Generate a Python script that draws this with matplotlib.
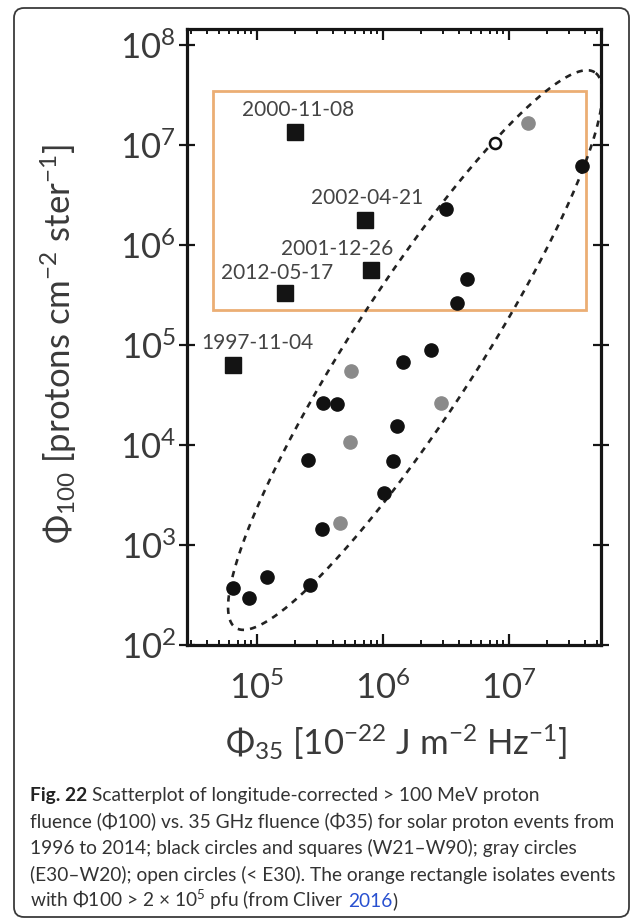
import numpy as np
import matplotlib
matplotlib.use('Agg')
import matplotlib.pyplot as plt
from matplotlib.patches import Rectangle, FancyBboxPatch
from matplotlib.transforms import IdentityTransform
from matplotlib.ticker import LogLocator, NullLocator

plt.rcParams['font.family'] = ['Lato', 'DejaVu Sans']
plt.rcParams['mathtext.fontset'] = 'custom'
plt.rcParams['mathtext.rm'] = 'Lato'
plt.rcParams['mathtext.it'] = 'Lato:italic'
plt.rcParams['mathtext.bf'] = 'Lato:bold'
plt.rcParams['mathtext.fallback'] = 'stixsans'

# ---------------- data ----------------
black_phi35 = [6.45e4, 8.6e4, 1.2e5, 2.63e5, 3.28e5, 2.54e5, 3.34e5, 4.3e5,
               1.02e6, 1.21e6, 1.28e6, 1.44e6, 2.4e6, 3.85e6, 4.6e6, 3.16e6, 3.78e7]
black_phi100 = [372, 295, 479, 398, 1.45e3, 7.1e3, 2.63e4, 2.57e4,
                3.3e3, 6.9e3, 1.55e4, 6.8e4, 8.9e4, 2.6e5, 4.6e5, 2.3e6, 6.2e6]

gray_phi35 = [4.56e5, 5.5e5, 5.6e5, 2.88e6, 1.42e7]
gray_phi100 = [1.66e3, 1.07e4, 5.5e4, 2.65e4, 1.65e7]

open_phi35 = [7.7e6]
open_phi100 = [1.04e7]

square_labels = ['1997-11-04', '2000-11-08', '2001-12-26', '2002-04-21', '2012-05-17']
square_phi35 = [6.45e4, 2.0e5, 8.0e5, 7.2e5, 1.67e5]
square_phi100 = [6.3e4, 1.35e7, 5.6e5, 1.78e6, 3.3e5]

# orange selection box (Phi35 range, Phi100 range)
box_phi35 = [4.45e4, 4.08e7]
box_phi100 = [2.25e5, 3.47e7]

# dashed ellipse (drawn as ellipse in log-log display space)
ell_center = (1.8e6, 8.9e4)
ell_tip = (4.79e7, 5.33e7)
ell_axis_ratio = 0.19

xlim = (2.78e4, 5.37e7)
ylim = (1e2, 1.445e8)

caption_lines = [
    "Scatterplot of longitude-corrected > 100 MeV proton",
    "fluence (\u03a6100) vs. 35 GHz fluence (\u03a635) for solar proton events from",
    "1996 to 2014; black circles and squares (W21\u2013W90); gray circles",
    "(E30\u2013W20); open circles (< E30). The orange rectangle isolates events",
    "with \u03a6100 > 2 \u00d7 10$^{5}$ pfu (from Cliver",
]

# ---------------- figure ----------------
W, H = 633, 919
fig = plt.figure(figsize=(W / 100, H / 100), dpi=100)
fig.patch.set_facecolor('white')

L, R, T, B = 187, 601, 29, 645
ax = fig.add_axes([L / W, 1 - B / H, (R - L) / W, (B - T) / H])
ax.set_xscale('log')
ax.set_yscale('log')
ax.set_xlim(*xlim)
ax.set_ylim(*ylim)

ax.xaxis.set_major_locator(LogLocator(base=10, numticks=20))
ax.xaxis.set_minor_locator(LogLocator(base=10, subs=np.arange(2, 10), numticks=20))
ax.yaxis.set_major_locator(LogLocator(base=10, numticks=20))
ax.yaxis.set_minor_locator(NullLocator())

tick_col = '#151515'
lab_col = '#3a3a3a'
ax.tick_params(axis='x', which='major', direction='in', top=True, bottom=True,
               length=8, width=1.6, color=tick_col, labelsize=25, pad=19,
               labelcolor=lab_col)
ax.tick_params(axis='x', which='minor', direction='in', top=True, bottom=True,
               length=3.5, width=1.4, color=tick_col)
ax.tick_params(axis='y', which='major', direction='inout', left=True, right=True,
               length=12, width=1.6, color=tick_col, labelsize=25, pad=2,
               labelcolor=lab_col)
for s in ax.spines.values():
    s.set_linewidth(2.3)
    s.set_color(tick_col)

# orange rectangle
ax.add_patch(Rectangle((box_phi35[0], box_phi100[0]),
                       box_phi35[1] - box_phi35[0], box_phi100[1] - box_phi100[0],
                       fill=False, edgecolor='#EBAE74', linewidth=2.0, zorder=2))

# dashed ellipse
c = ax.transData.transform(ell_center)
t = ax.transData.transform(ell_tip)
u = t - c
v = np.array([-u[1], u[0]]) * ell_axis_ratio
th = np.linspace(0, 2 * np.pi, 600)
pts = c + np.outer(np.cos(th), u) + np.outer(np.sin(th), v)
dpts = ax.transData.inverted().transform(pts)
ax.plot(dpts[:, 0], dpts[:, 1], linestyle=(0, (2.4, 2.3)), linewidth=1.9,
        color='#222222', zorder=3)

# points
ax.plot(black_phi35, black_phi100, 'o', ms=9.5, color='#111111', mec='#111111', zorder=4)
ax.plot(gray_phi35, gray_phi100, 'o', ms=9.5, color='#8a8a8a', mec='#8a8a8a', zorder=4)
ax.plot(open_phi35, open_phi100, 'o', ms=8, mfc='white', mec='#111111', mew=1.8, zorder=4)
ax.plot(square_phi35, square_phi100, 's', ms=11.5, color='#141414', zorder=5)

label_offsets = {'1997-11-04': (24, 22), '2000-11-08': (3, 22), '2001-12-26': (-34, 21),
                 '2002-04-21': (2, 22), '2012-05-17': (-8, 20)}
for lab, x, y in zip(square_labels, square_phi35, square_phi100):
    ax.annotate(lab, (x, y), xytext=label_offsets[lab], textcoords='offset pixels',
                ha='center', va='center', fontsize=15, color='#444444', zorder=6)

# axis labels
fig.text(396 / W, 1 - 742 / H,
         r'$\mathregular{\Phi_{35}}$ [10$^{-22}$ J m$^{-2}$ Hz$^{-1}$]',
         ha='center', va='center', fontsize=25, color=lab_col)
fig.text(59 / W, 1 - 344 / H,
         r'$\mathregular{\Phi_{100}}$ [protons cm$^{-2}$ ster$^{-1}$]',
         ha='center', va='center', rotation=90, fontsize=25, color=lab_col)

# frame
fig.add_artist(FancyBboxPatch((14, 2), 615, 909,
                              boxstyle='round,pad=0,rounding_size=10',
                              transform=IdentityTransform(), fill=False,
                              edgecolor='#3a3a3a', linewidth=1.3))

# caption
cap_col = '#333333'
cap_fs = 13.8
x0 = 30
baselines = [801, 828, 854, 881, 907]
fig.canvas.draw()
rend = fig.canvas.get_renderer()


def text_px(x, ybase, s, **kw):
    return fig.text(x / W, 1 - ybase / H, s, ha='left', va='baseline',
                    fontsize=cap_fs, color=kw.pop('color', cap_col), **kw)


def space_w(**kw):
    a = fig.text(0, 0, 'a a', fontsize=cap_fs, **kw)
    b = fig.text(0, 0, 'aa', fontsize=cap_fs, **kw)
    w = a.get_window_extent(rend).width - b.get_window_extent(rend).width
    a.remove(); b.remove()
    return w


sw = space_w()
t0 = text_px(x0, baselines[0], 'Fig. 22', fontweight='bold', color='#222222')
xe = t0.get_window_extent(rend).x1
text_px(xe + sw, baselines[0], caption_lines[0])
for i in (1, 2, 3):
    text_px(x0, baselines[i], caption_lines[i])
t4 = text_px(x0, baselines[4], caption_lines[4])
xe = t4.get_window_extent(rend).x1
t5 = text_px(xe + sw, baselines[4], '2016', color='#2850D0')
xe = t5.get_window_extent(rend).x1
text_px(xe, baselines[4], ')')

fig.savefig('out.png', dpi=100, facecolor='white')
